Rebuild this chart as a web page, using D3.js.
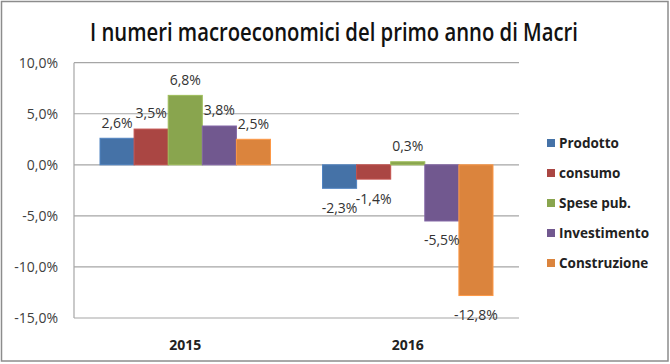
<!DOCTYPE html>
<html lang="it">
<head>
<meta charset="utf-8">
<style>
  body { margin: 0; background: #fff; }
  svg text { font-family: "Open Sans", sans-serif; }
  .grid line { stroke: #a6a6a6; stroke-width: 1.2px; }
  .ytick text { font-size: 14px; fill: #404040; }
  .vlabel { font-size: 14px; fill: #333; }
  .cat text { font-size: 14px; font-weight: 700; fill: #222; }
  .legend text { font-size: 13.5px; font-weight: 700; fill: #222; }
</style>
<script src="https://d3js.org/d3.v7.min.js"></script>
</head>
<body>
<svg width="670" height="364"></svg>
<script>
var years = ["2015", "2016"];
var series = ["Prodotto", "consumo", "Spese pub.", "Investimento", "Construzione"];
var colors = ["#4572A7", "#AA4643", "#89A54E", "#71588F", "#DB843D"];
var values2015 = [2.6, 3.5, 6.8, 3.8, 2.5];
var values2016 = [-2.3, -1.4, 0.3, -5.5, -12.8];
var yTicks = [10, 5, 0, -5, -10, -15];
var title = "I numeri macroeconomici del primo anno di Macri";

var svg = d3.select("svg");

// outer frame
svg.append("rect")
    .attr("x", 1.5).attr("y", 1.5)
    .attr("width", 666.5).attr("height", 359.5)
    .attr("fill", "none").attr("stroke", "#8c8c8c").attr("stroke-width", 1.5);

// title: squeeze horizontally to the narrower width of the original font
var titleG = svg.append("g");
var titleT = titleG.append("text")
    .attr("text-anchor", "middle")
    .attr("font-size", 25)
    .attr("font-weight", 600)
    .attr("fill", "#111")
    .text(title);
var tw = titleT.node().getComputedTextLength();
titleG.attr("transform", "translate(334,41) scale(" + Math.min(1, 488 / tw) + ",1)");

var plotL = 74, plotR = 519, plotT = 62.7, plotB = 318;

var y = d3.scaleLinear().domain([-15, 10]).range([plotB, plotT]);
var x = d3.scaleBand().domain(years).range([plotL, plotR]);
var xs = d3.scaleBand().domain(series)
    .range([26, x.bandwidth() - 26]);

var fmt = function(v) { return d3.format(".1f")(v).replace(".", ",").replace("−", "-") + "%"; };

// gridlines
svg.append("g").attr("class", "grid")
  .selectAll("line").data(yTicks).enter().append("line")
    .attr("x1", plotL).attr("x2", plotR)
    .attr("y1", function(d) { return y(d); })
    .attr("y2", function(d) { return y(d); });

svg.append("line")
    .attr("x1", plotL).attr("x2", plotL)
    .attr("y1", plotT).attr("y2", plotB)
    .attr("stroke", "#a6a6a6").attr("stroke-width", 1.2);

svg.append("g").attr("class", "ytick")
  .selectAll("text").data(yTicks).enter().append("text")
    .attr("x", 58)
    .attr("y", function(d) { return y(d); })
    .attr("dy", "0.35em")
    .attr("text-anchor", "end")
    .text(fmt);

var rows = [];
years.forEach(function(yr, i) {
  var vals = i === 0 ? values2015 : values2016;
  series.forEach(function(s, j) {
    rows.push({ year: yr, series: s, value: vals[j], color: colors[j] });
  });
});

svg.append("g").selectAll("rect").data(rows).enter().append("rect")
    .attr("x", function(d) { return x(d.year) + xs(d.series); })
    .attr("width", xs.bandwidth())
    .attr("y", function(d) { return y(Math.max(0, d.value)); })
    .attr("height", function(d) { return Math.abs(y(d.value) - y(0)); })
    .attr("fill", function(d) { return d.color; })
    .attr("stroke", function(d) { return d3.color(d.color).brighter(0.4); })
    .attr("stroke-width", 1);

svg.append("g").selectAll("text").data(rows).enter().append("text")
    .attr("class", "vlabel")
    .attr("x", function(d) { return x(d.year) + xs(d.series) + xs.bandwidth() / 2; })
    .attr("y", function(d) { return d.value >= 0 ? y(d.value) - 15.5 : y(d.value) + 19.5; })
    .attr("dy", "0.35em")
    .attr("text-anchor", "middle")
    .text(function(d) { return fmt(d.value); });

svg.append("g").attr("class", "cat")
  .selectAll("text").data(years).enter().append("text")
    .attr("x", function(d) { return x(d) + x.bandwidth() / 2; })
    .attr("y", 345.5)
    .attr("dy", "0.35em")
    .attr("text-anchor", "middle")
    .text(function(d) { return d; });

var legend = svg.append("g").attr("class", "legend")
  .selectAll("g").data(series).enter().append("g")
    .attr("transform", function(d, i) { return "translate(547," + (143 + i * 30) + ")"; });

legend.append("rect")
    .attr("x", 0).attr("y", -4).attr("width", 8).attr("height", 8)
    .attr("fill", function(d, i) { return colors[i]; });

legend.append("text")
    .attr("x", 12).attr("dy", "0.35em")
    .text(function(d) { return d; });
</script>
</body>
</html>
